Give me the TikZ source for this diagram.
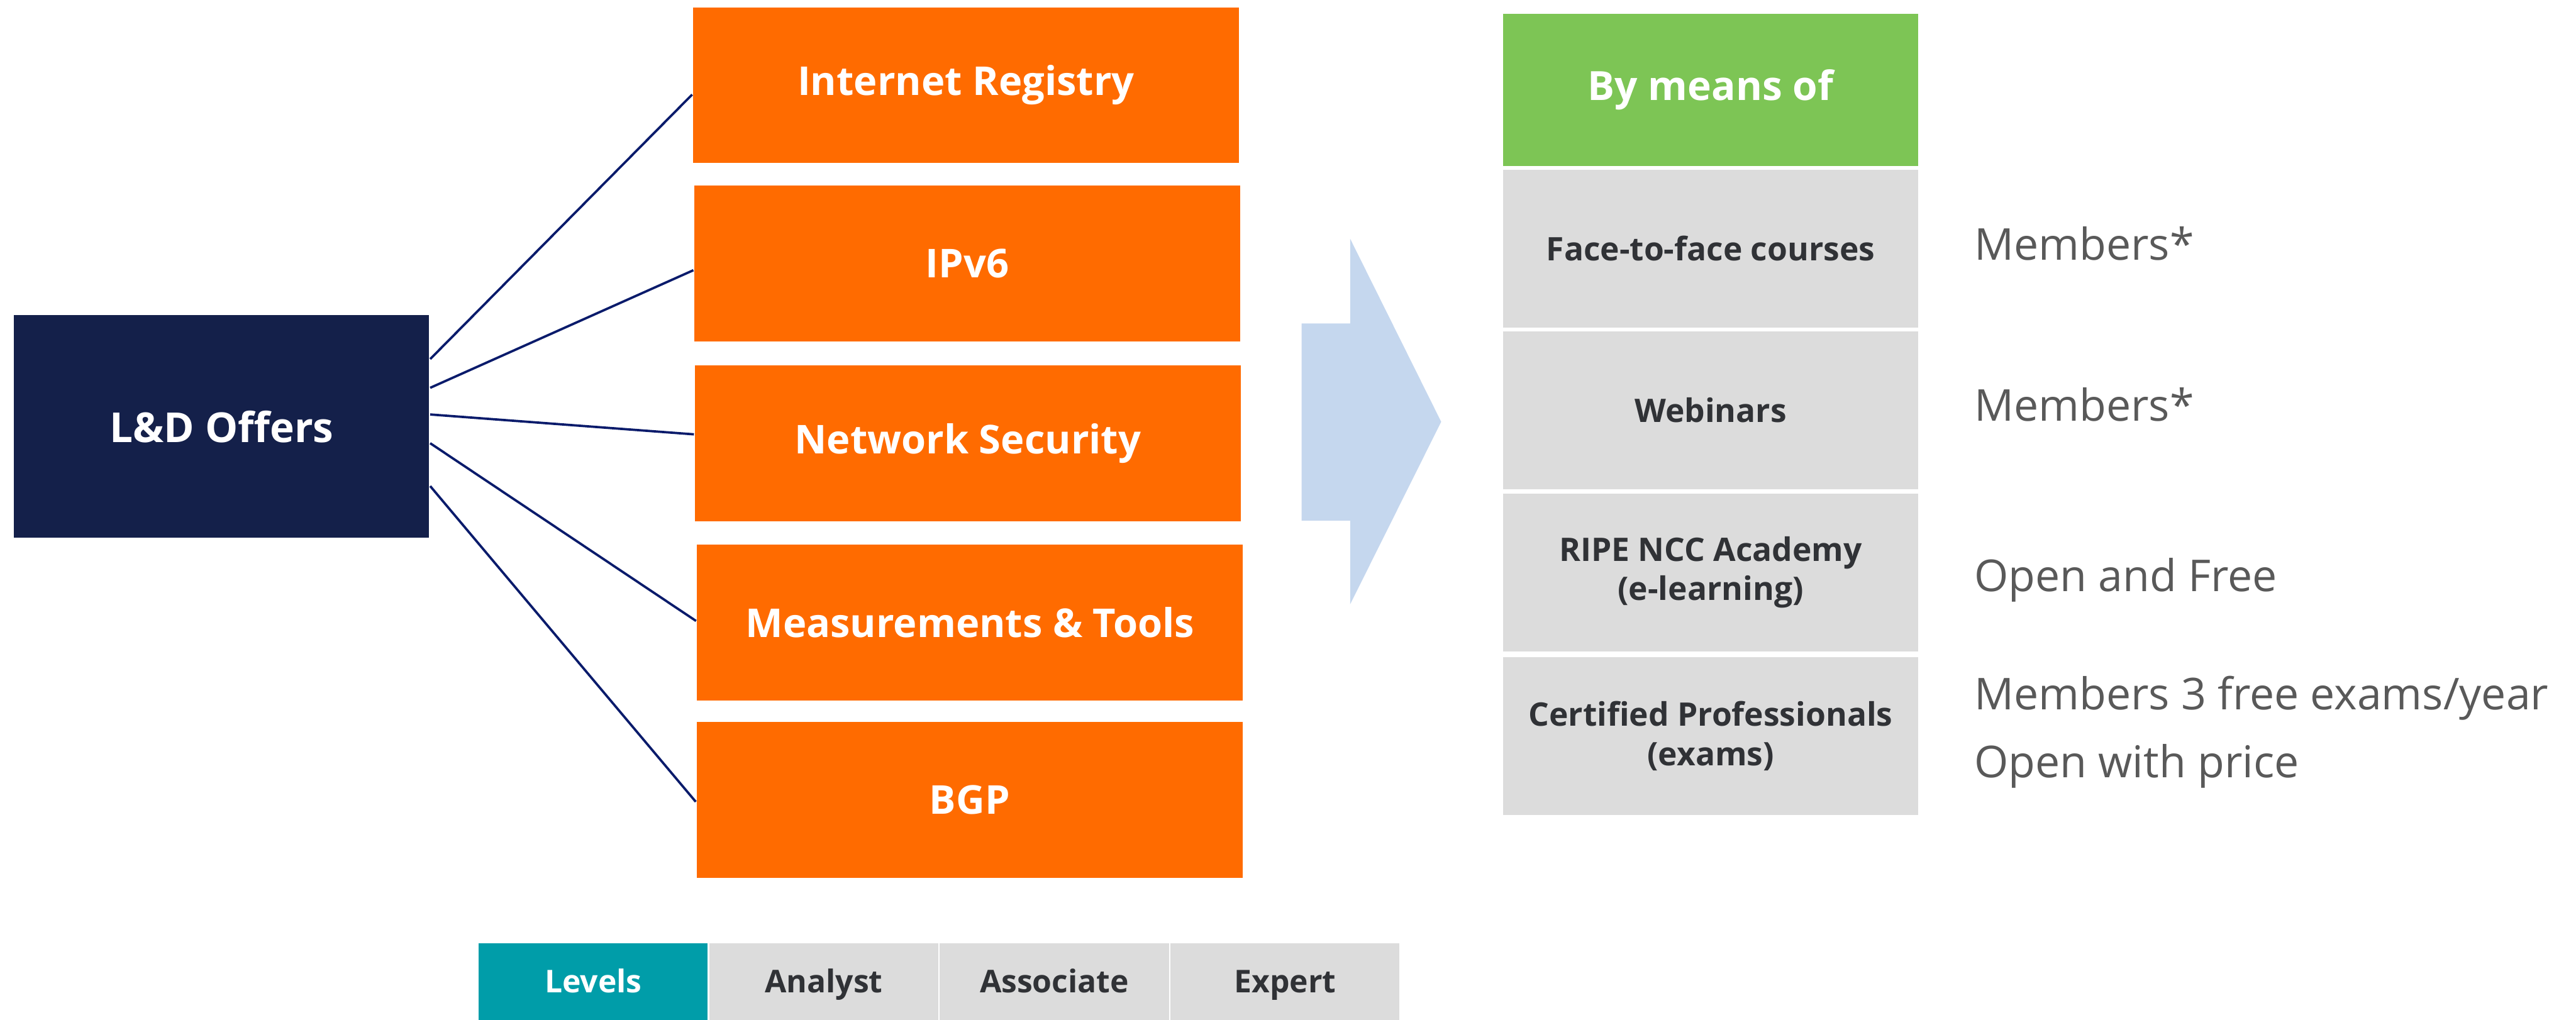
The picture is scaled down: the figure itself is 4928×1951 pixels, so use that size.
\documentclass[tikz,border=0pt]{standalone}
\usepackage{fontspec}
\setmainfont{Open Sans}
\usetikzlibrary{calc}
\definecolor{navy}{HTML}{14204A}
\definecolor{linkblue}{HTML}{0A1B6B}
\definecolor{topicorange}{HTML}{FF6B00}
\definecolor{meansgreen}{HTML}{7DC555}
\definecolor{cellgray}{HTML}{DCDCDC}
\definecolor{levelteal}{HTML}{009DA9}
\definecolor{arrowblue}{HTML}{C5D7EE}
\definecolor{darktext}{HTML}{303236}
\definecolor{softtext}{HTML}{595959}
\tikzset{
  boxbase/.style={rectangle, inner sep=0pt, align=center},
  topicbox/.style={boxbase, fill=topicorange, text=white, minimum width=104.4pt, minimum height=29.8pt,
    font=\bfseries\fontsize{7.6}{9}\selectfont},
  hubbox/.style={boxbase, fill=navy, text=white, minimum width=79.4pt, minimum height=42.6pt,
    font=\bfseries\fontsize{7.9}{9}\selectfont},
  headbox/.style={boxbase, fill=meansgreen, text=white, minimum width=79.3pt, minimum height=29.2pt,
    font=\bfseries\fontsize{7.7}{9}\selectfont},
  meansbox/.style={boxbase, fill=cellgray, text=darktext, minimum width=79.3pt, minimum height=30.2pt,
    font=\bfseries\fontsize{6.2}{7.5}\selectfont},
  levelcell/.style={boxbase, fill=cellgray, text=darktext, minimum width=43.8pt, minimum height=14.6pt,
    text height=4.3pt, text depth=0pt,
    font=\bfseries\fontsize{6.0}{7}\selectfont},
  accessnote/.style={anchor=base west, inner sep=0pt, text=softtext, font=\fontsize{8.4}{10}\selectfont},
  link/.style={draw=linkblue, line width=0.45pt}
}
\begin{document}
\begin{tikzpicture}[x=0.1pt, y=-0.1pt]
\useasboundingbox (0,0) rectangle (4928,1951);

% hub and topic boxes
\node[hubbox] (ld) at (424,816) {L\&D Offers};
\node[topicbox] (ir)   at (1848,163)   {Internet Registry};
\node[topicbox] (ipv6) at (1850.5,504.5) {IPv6};
\node[topicbox] (ns)   at (1851.5,848) {Network Security};
\node[topicbox] (mt)   at (1855.5,1191) {Measurements \& Tools};
\node[topicbox] (bgp)  at (1855,1530)  {BGP};

% connectors from the hub to each topic
\draw[link] ($(ld.east)+(0,-129)$) -- ($(ir.west)+(0,18)$);
\draw[link] ($(ld.east)+(0,-74)$)  -- ($(ipv6.west)+(0,12.5)$);
\draw[link] ($(ld.east)+(0,-23)$)  -- ($(ns.west)+(0,-17)$);
\draw[link] ($(ld.east)+(0,32)$)   -- ($(mt.west)+(0,-3)$);
\draw[link] ($(ld.east)+(0,114)$)  -- ($(bgp.west)+(0,4)$);

% block arrow
\fill[arrowblue] (2490,619) -- (2583,619) -- (2583,457) -- (2757,807)
  -- (2583,1156) -- (2583,996) -- (2490,996) -- cycle;

% delivery formats
\node[headbox]  (means) at (3272.5,172)  {By means of};
\node[meansbox] (f2f)   at (3272.5,475.5) {Face-to-face courses};
\node[meansbox] (web)   at (3272.5,785)  {Webinars};
\node[meansbox] (acad)  at (3272.5,1095) {RIPE NCC Academy\\(e-learning)};
\node[meansbox] (cert)  at (3272.5,1408) {Certified Professionals\\(exams)};

% access notes
\node[accessnote] (n1) at (3775,498)  {Members*};
\node[accessnote] (n2) at (3775,806)  {Members*};
\node[accessnote] (n3) at (3775,1132) {Open and Free};
\node[accessnote] (n4) at (3775,1358) {Members 3 free exams/year};
\node[accessnote] (n5) at (3775,1488) {Open with price};

% levels bar
\node[levelcell, fill=levelteal, text=white] (lv) at (1135,1878) {Levels};
\node[levelcell] (an) at (1576,1878) {Analyst};
\node[levelcell] (as) at (2017,1878) {Associate};
\node[levelcell] (ex) at (2458.5,1878) {Expert};
\end{tikzpicture}
\end{document}
